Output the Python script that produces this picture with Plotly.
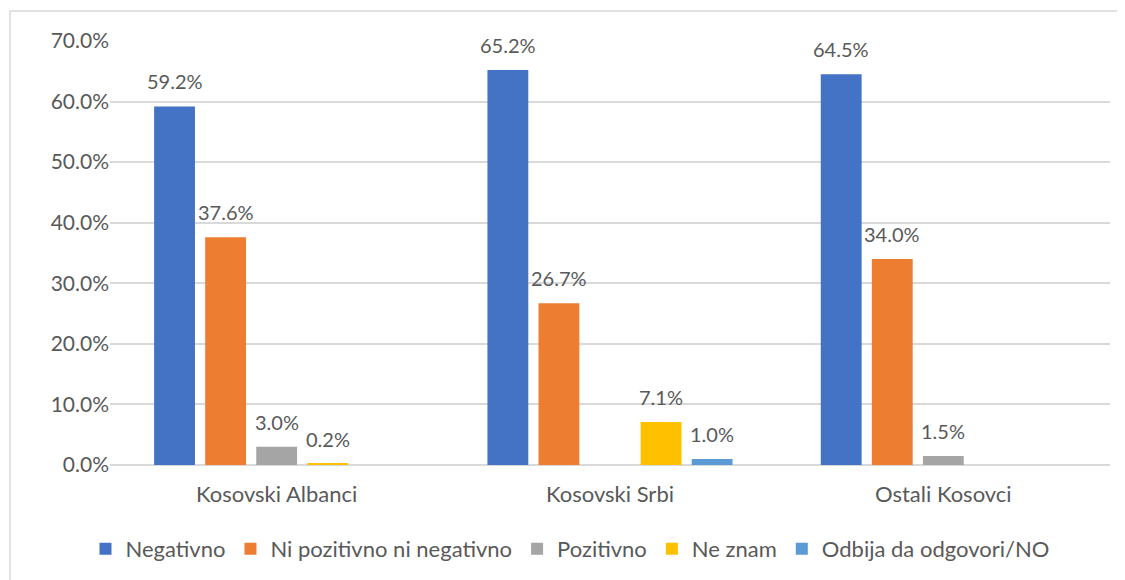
import plotly.graph_objects as go

# data
groups = ["Kosovski Albanci", "Kosovski Srbi", "Ostali Kosovci"]
series_names = ["Negativno", "Ni pozitivno ni negativno", "Pozitivno", "Ne znam", "Odbija da odgovori/NO"]
negativno = [59.2, 65.2, 64.5]
ni_pozitivno = [37.6, 26.7, 34.0]
pozitivno = [3.0, None, 1.5]
ne_znam = [0.2, 7.1, None]
odbija = [None, 1.0, None]
y_ticks = [0, 10, 20, 30, 40, 50, 60, 70]

colors = ["#4472C4", "#ED7D31", "#A5A5A5", "#FFC000", "#5B9BD5"]
values = [negativno, ni_pozitivno, pozitivno, ne_znam, odbija]

font_main = "Lato, 'Open Sans', sans-serif"
txt_col = "#595959"
bargap = 0.234

fig = go.Figure()
for name, vals, col in zip(series_names, values, colors):
    fig.add_trace(go.Bar(
        x=groups, y=vals, name=name,
        marker=dict(color=col, line_width=0),
    ))

# value labels sit a bit higher above the bars than plotly's outside text
slot = (1 - bargap) / len(series_names)
annotations = []
for si, vals in enumerate(values):
    for gi, v in enumerate(vals):
        if v is None:
            continue
        annotations.append(dict(
            x=gi + (si - (len(series_names) - 1) / 2) * slot, y=v,
            xref="x", yref="y", text=f"{v:.1f}%", showarrow=False,
            yanchor="bottom", yshift=11,
            font=dict(family=font_main, size=20, color=txt_col),
        ))

# page body has an 8px margin, so margins are shifted by -8
fig.update_layout(
    width=1125, height=580,
    paper_bgcolor="white", plot_bgcolor="white",
    barmode="group", bargap=bargap, bargroupgap=0.2,
    margin=dict(l=102, r=23, t=33, b=123),
    font=dict(family=font_main, size=20, color=txt_col),
    xaxis=dict(
        showgrid=False, showline=False, ticks="",
        tickfont=dict(size=22, color=txt_col),
        ticklabelstandoff=14,
    ),
    yaxis=dict(
        range=[0, 70], tickvals=y_ticks,
        ticktext=[f"{v:.1f}%" for v in y_ticks],
        showgrid=True, gridcolor="#D9D9D9", gridwidth=1.5,
        zeroline=True, zerolinecolor="#D9D9D9", zerolinewidth=1.5,
        showline=False, ticks="", ticklen=0,
        tickfont=dict(size=21, color=txt_col),
    ),
    legend=dict(
        orientation="h", x=0.46, xanchor="center", y=-0.198, yanchor="middle",
        font=dict(size=22, color=txt_col), itemwidth=30,
        traceorder="normal",
    ),
    showlegend=True,
    annotations=annotations,
    shapes=[dict(
        type="rect", xref="paper", yref="paper",
        x0=-0.1, x1=1.008, y0=-0.35, y1=1.071,
        line=dict(color="#D9D9D9", width=1.5), fillcolor="rgba(0,0,0,0)",
        layer="below",
    )],
)

fig.write_html("out.html")
